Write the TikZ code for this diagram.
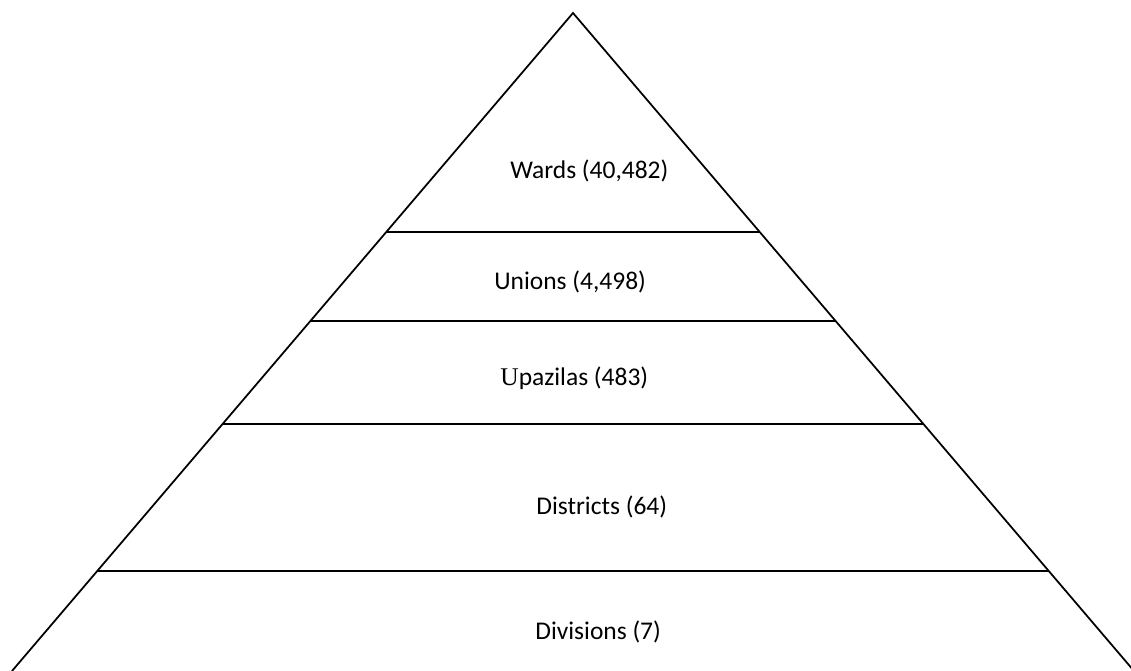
\documentclass[tikz,border=0pt]{standalone}
\usepackage{fontspec}
\setmainfont{Carlito}
\newfontfamily\capserif{Liberation Serif}
\usetikzlibrary{calc}
\tikzset{
  edge/.style={draw=black, line width=1pt},
  tierlabel/.style={anchor=base west, inner sep=0pt, font=\fontsize{14.5}{17}\selectfont}
}
\begin{document}
\begin{tikzpicture}[x=0.02cm, y=-0.02cm]
  \useasboundingbox (0,0) rectangle (1131,671);
  % outline of the pyramid
  \coordinate (apex) at (573,13);
  \coordinate (bl) at (12,671);
  \coordinate (br) at (1134,671);
  \draw[edge] (bl) -- (apex) -- (br);
  % tier dividers, placed as fractions of the height
  \foreach \yy/\nm in {232/a, 321/b, 424/c, 571/d} {
    \pgfmathsetmacro{\t}{(\yy-13)/658}
    \coordinate (L\nm) at ($(apex)!\t!(bl)$);
    \coordinate (R\nm) at ($(apex)!\t!(br)$);
    \draw[edge] (L\nm) -- (R\nm);
  }
  % tier labels
  \node[tierlabel] (wards) at (510,179) {Wards (40,482)};
  \node[tierlabel] (unions) at (494,290) {Unions (4,498)};
  \node[tierlabel] (upazilas) at (500,386) {{\capserif U}pazilas (483)};
  \node[tierlabel] (districts) at (536,514) {Districts (64)};
  \node[tierlabel] (divisions) at (535,639) {Divisions (7)};
\end{tikzpicture}
\end{document}
